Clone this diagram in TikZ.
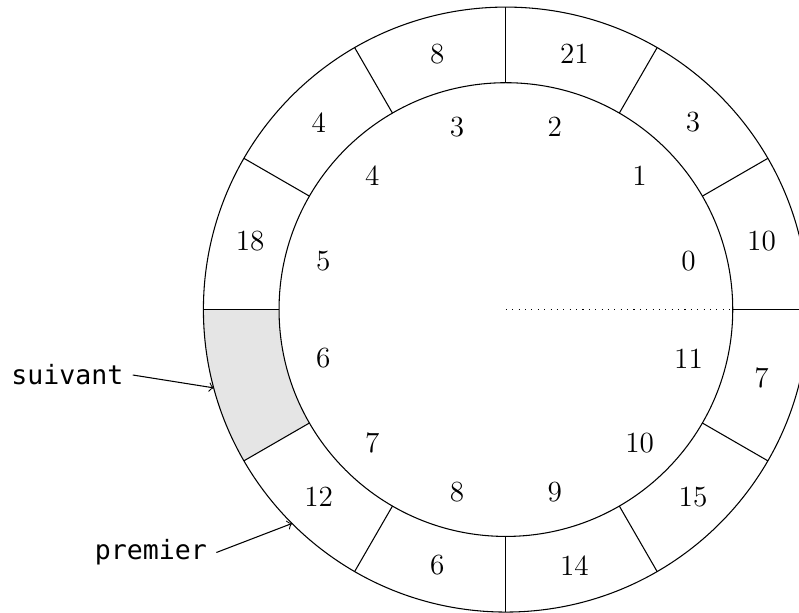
\documentclass[tikz,border=0pt]{standalone}
\usepackage{fontspec}
\setmonofont{DejaVu Sans Mono}
\usetikzlibrary{calc}

\begin{document}
\begin{tikzpicture}

\def\rin{3cm}
\def\rout{4cm}
\def\rval{3.5cm}
\def\ridx{2.5cm}

\tikzstyle{vnode} = [inner sep=0pt,font=\fontsize{11}{13}\selectfont];
\tikzstyle{inode} = [inner sep=0pt,font=\fontsize{11}{13}\selectfont];
\tikzstyle{lnode} = [font=\ttfamily];

\useasboundingbox (-6.69,-4.001) rectangle (3.876,4.094);

% case suivante (grisee)
\fill [gray!20] (180:\rin) arc (180:210:\rin) -- (210:\rout) arc (210:180:\rout) -- cycle;

\draw (0,0) circle (\rin);
\draw (0,0) circle (\rout);
\draw [dotted] (0,0) -- (0:\rin);

\draw (0:\rin) -- (0:\rout);
\draw (30:\rin) -- (30:\rout);
\draw (60:\rin) -- (60:\rout);
\draw (90:\rin) -- (90:\rout);
\draw (120:\rin) -- (120:\rout);
\draw (150:\rin) -- (150:\rout);
\draw (180:\rin) -- (180:\rout);
\draw (210:\rin) -- (210:\rout);
\draw (240:\rin) -- (240:\rout);
\draw (270:\rin) -- (270:\rout);
\draw (300:\rin) -- (300:\rout);
\draw (330:\rin) -- (330:\rout);

% valeurs
\node [vnode] (v0) at (15:\rval) {10};
\node [vnode] (v1) at (45:\rval) {3};
\node [vnode] (v2) at (75:\rval) {21};
\node [vnode] (v3) at (105:\rval) {8};
\node [vnode] (v4) at (135:\rval) {4};
\node [vnode] (v5) at (165:\rval) {18};
\node [vnode] (v7) at (225:\rval) {12};
\node [vnode] (v8) at (255:\rval) {6};
\node [vnode] (v9) at (285:\rval) {14};
\node [vnode] (v10) at (315:\rval) {15};
\node [vnode] (v11) at (345:\rval) {7};

% indices
\node [inode] (i0) at (15:\ridx) {0};
\node [inode] (i1) at (45:\ridx) {1};
\node [inode] (i2) at (75:\ridx) {2};
\node [inode] (i3) at (105:\ridx) {3};
\node [inode] (i4) at (135:\ridx) {4};
\node [inode] (i5) at (165:\ridx) {5};
\node [inode] (i6) at (195:\ridx) {6};
\node [inode] (i7) at (225:\ridx) {7};
\node [inode] (i8) at (255:\ridx) {8};
\node [inode] (i9) at (285:\ridx) {9};
\node [inode] (i10) at (315:\ridx) {10};
\node [inode] (i11) at (345:\ridx) {11};

\coordinate (p6) at (195:\rout);
\coordinate (p7) at (225:\rout);

\node [lnode,anchor=east] (suivant) at ([xshift=-1.07cm,yshift=0.17cm]p6) {suivant};
\node [lnode,anchor=east] (premier) at ([xshift=-1.0cm,yshift=-0.384cm]p7) {premier};

\draw [->] (suivant.east) -- (p6);
\draw [->] (premier.east) -- (p7);

\end{tikzpicture}
\end{document}
